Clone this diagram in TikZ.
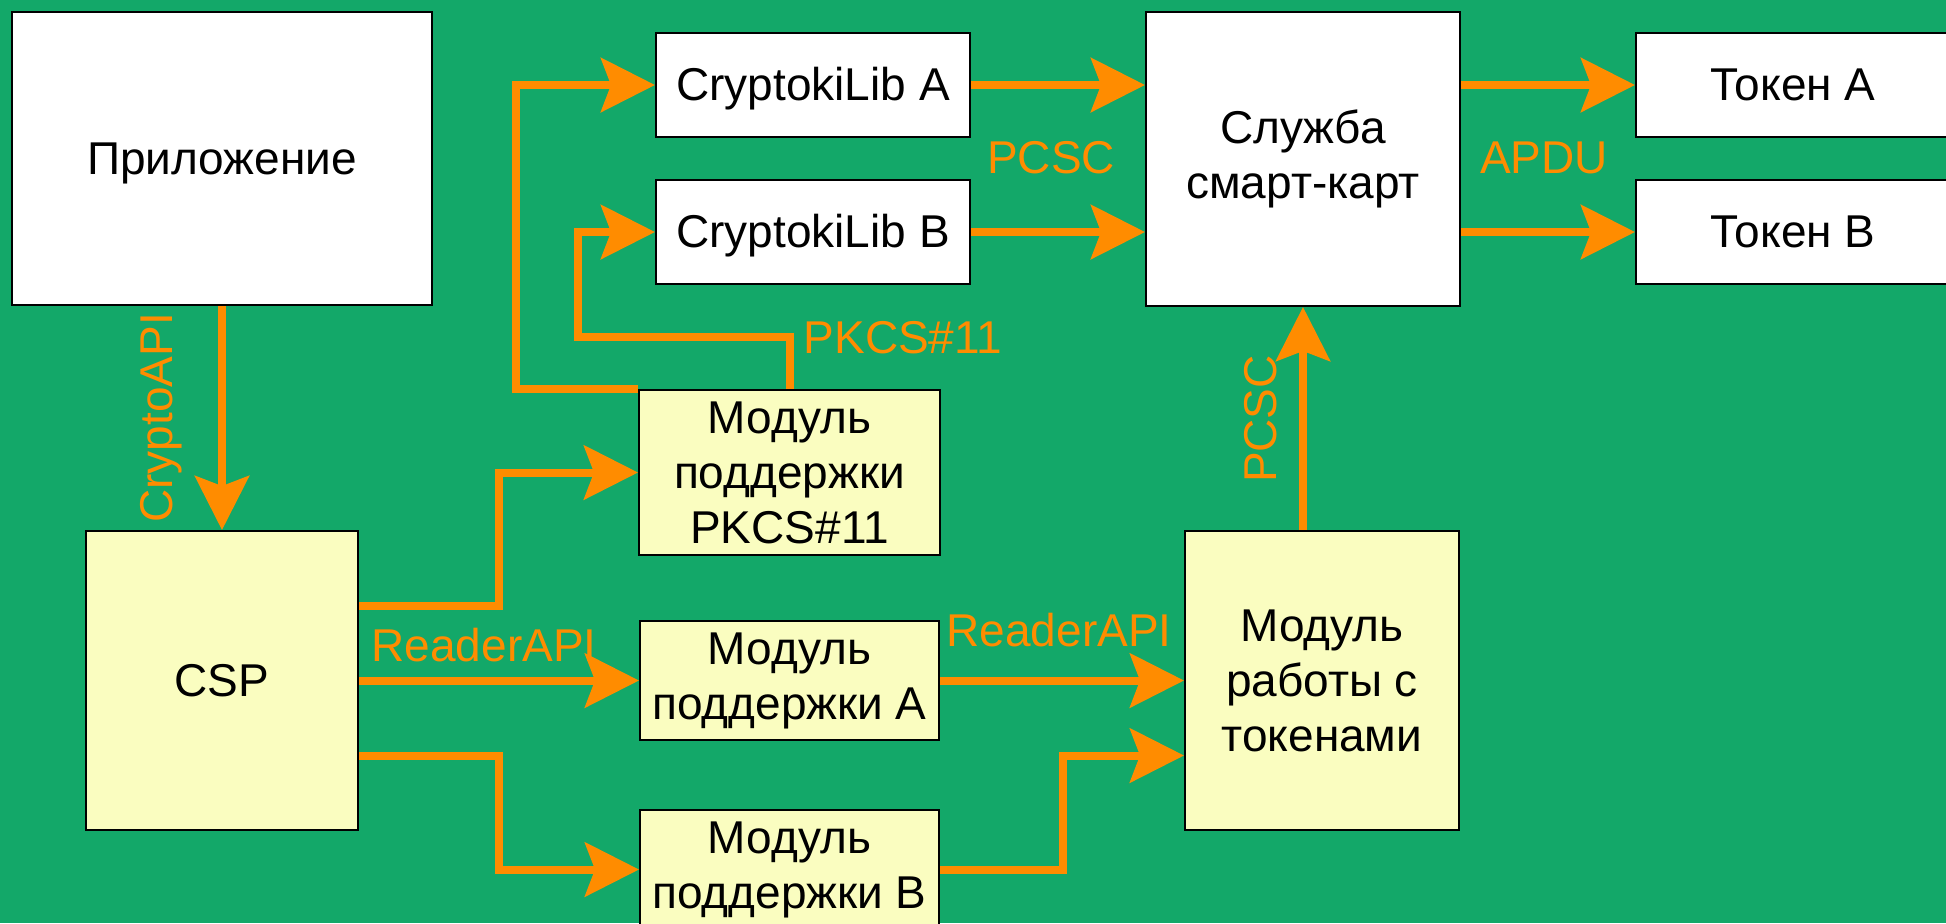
\documentclass[tikz,border=0pt]{standalone}
\usepackage{fontspec}
\setmainfont{Liberation Sans}
\usetikzlibrary{arrows.meta,calc}
\definecolor{bgG}{HTML}{13A869}
\definecolor{orC}{HTML}{FF8C00}
\definecolor{ylw}{HTML}{FAFDC0}
\tikzset{
  every node/.style={font=\fontsize{23}{27.5}\selectfont},
  boxw/.style={draw=black, line width=1pt, fill=white, align=center, inner sep=0pt},
  boxy/.style={boxw, fill=ylw},
  oneline/.style={text height=20.8pt, text depth=4.9pt},
  arr/.style={draw=orC, line width=4pt, line join=miter,
    -{Stealth[length=27pt,width=27pt,inset=5pt]}},
  lbl/.style={text=orC, inner sep=0pt}
}
\begin{document}
\begin{tikzpicture}[x=0.5pt,y=-0.5pt]
\useasboundingbox (0,0) rectangle (1946,923);
\clip (0,0) rectangle (1946,923);
\fill[bgG] (0,0) rectangle (1946,923);

% nodes
\node[boxw, oneline, minimum width=210pt, minimum height=146.5pt] (App) at (222,158.5) {Приложение};
\node[boxw, oneline, minimum width=157pt, minimum height=52pt] (CrA) at (813,85) {CryptokiLib A};
\node[boxw, oneline, minimum width=157pt, minimum height=52pt] (CrB) at (813,232) {CryptokiLib B};
\node[boxw, minimum width=157pt, minimum height=147pt] (SC) at (1303,159) {Служба\\смарт-карт};
\node[boxw, oneline, minimum width=157pt, minimum height=52pt] (TA) at (1793,85) {Токен А};
\node[boxw, oneline, minimum width=157pt, minimum height=52pt] (TB) at (1793,232) {Токен В};
\node[boxy, minimum width=150.5pt, minimum height=82.5pt] (PK) at (789.5,472.5) {Модуль\\поддержки\\PKCS\#11};
\node[boxy, oneline, minimum width=136pt, minimum height=149.5pt] (CSP) at (222,680.5) {CSP};
\node[boxy, minimum width=149.5pt, minimum height=59.5pt] (MA) at (789.5,680.5) {Модуль\\поддержки А};
\node[boxy, minimum width=149.5pt, minimum height=59.5pt] (MB) at (789.5,869.5) {Модуль\\поддержки В};
\node[boxy, minimum width=137pt, minimum height=149.5pt] (TM) at (1322,680.5) {Модуль\\работы с\\токенами};

% connectors
\draw[arr] (App.south) -- (CSP.north);
\draw[arr] (PK.north west) -- (516,389) |- (CrA.west);
\draw[arr] (PK.north) |- (578,337) |- (CrB.west);
\draw[arr] (CrA.east) -- (SC.west |- CrA.east);
\draw[arr] (CrB.east) -- (SC.west |- CrB.east);
\draw[arr] (SC.east |- TA.west) -- (TA.west);
\draw[arr] (SC.east |- TB.west) -- (TB.west);
\draw[arr] ($(CSP.east)+(0,-75)$) -| (499,472.5) -- (PK.west);
\draw[arr] (CSP.east) -- (MA.west);
\draw[arr] ($(CSP.east)+(0,75)$) -| (499,869.5) -- (MB.west);
\draw[arr] (MA.east) -- (TM.west);
\draw[arr] (MB.east) -| (1063,755.5) -- ($(TM.west)+(0,75)$);
\draw[arr] (TM.north -| SC.south) -- (SC.south);

% labels
\node[lbl, rotate=90] (lCA) at (161,418) {CryptoAPI};
\node[lbl] (lP1) at (1051,158) {PCSC};
\node[lbl] (lAP) at (1544,158) {APDU};
\node[lbl] (lPK) at (903,338) {PKCS\#11};
\node[lbl] (lR1) at (484,645) {ReaderAPI};
\node[lbl] (lR2) at (1059,630) {ReaderAPI};
\node[lbl, rotate=90] (lP2) at (1261,419) {PCSC};
\end{tikzpicture}
\end{document}
